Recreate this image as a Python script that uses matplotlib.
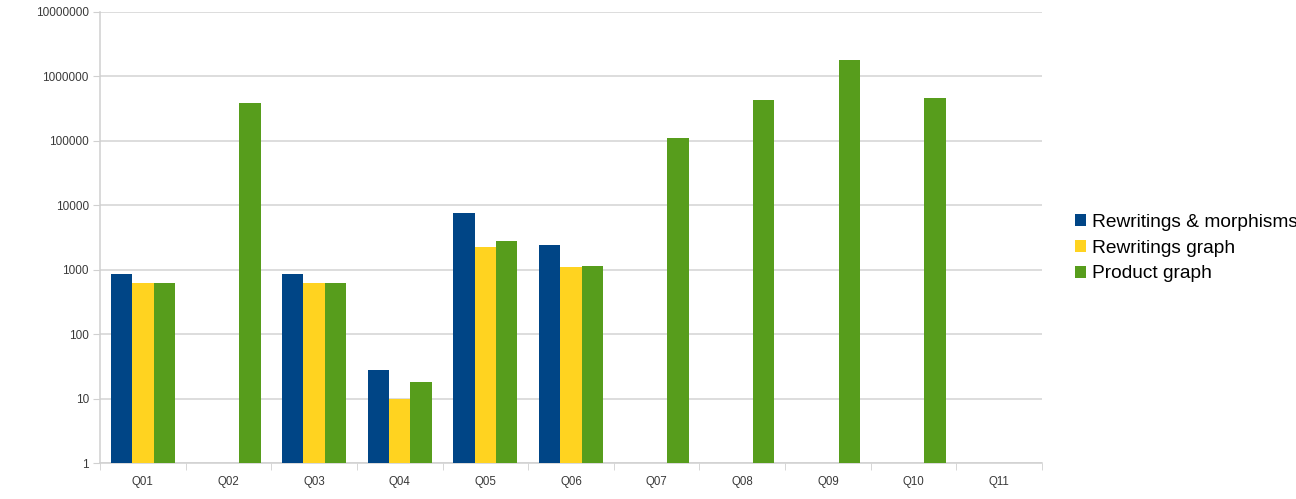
import matplotlib
matplotlib.use("Agg")
import matplotlib.pyplot as plt
import numpy as np

plt.rcParams['font.family'] = ['Liberation Sans', 'DejaVu Sans']

categories = ["Q01", "Q02", "Q03", "Q04", "Q05", "Q06", "Q07", "Q08", "Q09", "Q10", "Q11"]
series_names = ["Rewritings & morphisms", "Rewritings graph", "Product graph"]
rewritings_morphisms = [860, np.nan, 860, 28, 7500, 2400, np.nan, np.nan, np.nan, np.nan, np.nan]
rewritings_graph = [625, np.nan, 625, 10, 2280, 1120, np.nan, np.nan, np.nan, np.nan, np.nan]
product_graph = [625, 390000, 625, 18, 2830, 1130, 110000, 430000, 1810000, 470000, np.nan]
colors = ["#004586", "#ffd320", "#579d1c"]
y_ticks = [1, 10, 100, 1000, 10000, 100000, 1000000, 10000000]

fig = plt.figure(figsize=(12.96, 4.99), dpi=100)
ax = fig.add_axes([100/1296, 36/499, 942/1296, 451/499])

x = np.arange(len(categories))
w = 0.25
for i, (vals, c, name) in enumerate(zip([rewritings_morphisms, rewritings_graph, product_graph], colors, series_names)):
    ax.bar(x + (i - 1) * w, vals, width=w, color=c, label=name, zorder=3)

ax.set_yscale('log')
ax.set_ylim(1, 1e7)
ax.set_xlim(-0.5, len(categories) - 0.5)
ax.set_yticks(y_ticks)
ax.set_yticklabels([str(v) for v in y_ticks], fontsize=8.5, color='#3a3a3a')
ax.yaxis.set_minor_locator(matplotlib.ticker.NullLocator())
ax.set_xticks(x)
ax.set_xticklabels(categories, fontsize=8.3, color='#3a3a3a')
ax.set_xticks(np.arange(-0.5, len(categories)), minor=True)
ax.tick_params(axis='x', which='major', length=0, pad=9)
ax.tick_params(axis='x', which='minor', length=5, color='#d0d0d0')
ax.tick_params(axis='y', which='major', length=5, color='#d0d0d0', pad=3)
ax.grid(axis='y', color='#d3d3d3', linewidth=1.1, zorder=0)
for s in ['top', 'right']:
    ax.spines[s].set_visible(False)
for s in ['left', 'bottom']:
    ax.spines[s].set_color('#d0d0d0')
    ax.spines[s].set_linewidth(1.1)

fig.legend(loc='center left', bbox_to_anchor=(1075/1296, 1 - 248/499), frameon=False,
           fontsize=13.8, handlelength=0.58, handleheight=0.58, handletextpad=0.3,
           labelspacing=0.46, borderpad=0, borderaxespad=0)

fig.savefig("out.png", dpi=100)
